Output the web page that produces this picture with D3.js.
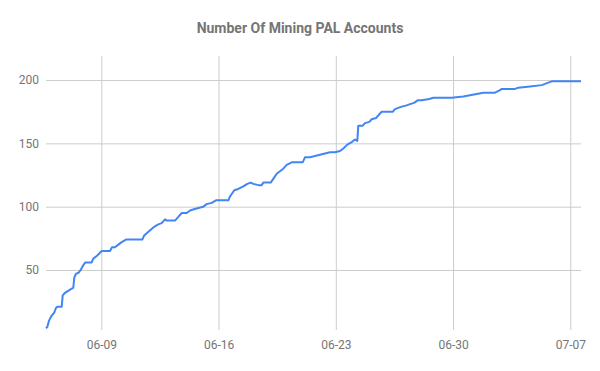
<!DOCTYPE html>
<html>
<head>
<meta charset="utf-8">
<script src="https://cdn.jsdelivr.net/npm/d3@7"></script>
<style>
  html, body { margin: 0; padding: 0; background: #fff; }
  svg { display: block; font-family: Roboto, Arial, sans-serif; }
</style>
</head>
<body>
<svg id="chart" width="600" height="371"></svg>
<script>
const title = "Number Of Mining PAL Accounts";
const year = "2018";
const times = [
  "06-05 16:46","06-05 18:38","06-05 21:05","06-06 00:56","06-06 04:14","06-06 07:06","06-06 08:58","06-06 15:16",
  "06-06 16:42","06-06 20:00","06-07 07:52","06-07 09:18","06-07 11:46","06-07 15:38","06-07 18:29","06-07 21:22",
  "06-08 01:05","06-08 10:14","06-08 12:32","06-08 17:24","06-08 21:08","06-09 00:34","06-09 12:28","06-09 15:20",
  "06-09 19:38","06-10 00:22","06-10 05:14","06-10 11:24","06-11 10:45","06-11 13:11","06-11 17:02","06-11 23:12",
  "06-12 03:30","06-12 09:40","06-12 14:33","06-12 19:16","06-12 21:42","06-13 09:36","06-13 14:20","06-13 19:12",
  "06-14 02:22","06-14 07:06","06-14 12:49","06-14 18:59","06-15 02:09","06-15 07:02","06-15 14:11","06-15 20:21",
  "06-16 13:58","06-16 16:24","06-16 22:34","06-17 04:17","06-17 11:28","06-17 17:11","06-17 22:04","06-18 01:48",
  "06-18 08:57","06-18 13:49","06-18 16:08","06-19 02:43","06-19 06:27","06-19 11:19","06-19 16:03","06-19 20:47",
  "06-20 01:39","06-20 08:49","06-21 00:34","06-21 03:52","06-21 11:02","06-21 18:12","06-22 01:22","06-22 08:31",
  "06-22 15:41","06-22 22:51","06-23 06:01","06-23 10:45","06-23 16:29","06-23 22:47","06-24 03:30","06-24 06:48",
  "06-24 08:14","06-24 14:33","06-24 17:50","06-25 00:00","06-25 03:26","06-25 09:36","06-25 14:20","06-25 17:46",
  "06-26 09:32","06-26 12:49","06-26 17:33","06-26 22:25","06-27 05:35","06-27 10:19","06-27 16:03","06-27 21:22",
  "06-28 03:04","06-28 13:58","06-28 19:42","06-29 19:38","06-29 22:03","06-30 14:41","07-01 09:53","07-01 19:21",
  "07-02 12:06","07-02 19:16","07-02 21:42","07-03 16:46","07-03 21:30","07-04 14:16","07-05 07:02","07-05 11:46",
  "07-05 16:29","07-05 21:22","07-07 15:20"
];
const accounts = [
  4,5,10,14,16,20,21,21,
  30,32,36,44,47,48,50,53,
  56,56,59,61,63,65,65,68,
  68,70,72,74,74,77,79,82,
  84,86,87,90,89,89,92,95,
  95,97,98,99,100,102,103,105,
  105,108,113,114,116,118,119,118,
  117,117,119,119,122,126,128,130,
  133,135,135,139,139,140,141,142,
  143,143,144,146,149,151,153,152,
  164,164,166,167,169,170,173,175,
  175,177,178,179,180,181,182,184,
  184,185,186,186,186,187,189,190,
  190,192,193,193,194,195,196,197,
  198,199,199
];
const xTickLabels = ["06-09","06-16","06-23","06-30","07-07"];
const yTickValues = [50,100,150,200];

const parse = d3.timeParse("%Y-%m-%d %H:%M");
const parseDay = d3.timeParse("%Y-%m-%d");
const data = times.map((t, i) => ({ date: parse(year + "-" + t), value: accounts[i] }));

const svg = d3.select("#chart");
const m = { left: 46, right: 581, top: 56, bottom: 330 };

const x = d3.scaleTime().domain(d3.extent(data, d => d.date)).range([m.left, m.right]);
const y = d3.scaleLinear().domain([2.6, 219]).range([m.bottom, m.top]);

svg.append("text")
  .attr("x", 300).attr("y", 33).attr("text-anchor", "middle")
  .attr("font-size", 14).attr("font-weight", "bold").attr("fill", "#757575")
  .text(title);

const xTicks = xTickLabels.map(s => parseDay(year + "-" + s));
const fmt = d3.timeFormat("%m-%d");

const gx = svg.append("g").attr("transform", `translate(0,${m.bottom})`)
  .call(d3.axisBottom(x).tickValues(xTicks).tickSize(-(m.bottom - m.top)).tickFormat(fmt));
gx.select(".domain").remove();
gx.selectAll("line").attr("stroke", "#cccccc");
gx.selectAll("text").attr("fill", "#757575").attr("font-size", 12)
  .attr("font-family", "Roboto, Arial, sans-serif").attr("dy", "0").attr("y", 19);

const gy = svg.append("g").attr("transform", `translate(${m.left},0)`)
  .call(d3.axisLeft(y).tickValues(yTickValues).tickSize(-(m.right - m.left)).tickFormat(d3.format("d")));
gy.select(".domain").remove();
gy.selectAll("line").attr("stroke", "#cccccc");
gy.selectAll("text").attr("fill", "#757575").attr("font-size", 12)
  .attr("font-family", "Roboto, Arial, sans-serif").attr("x", -7);

const line = d3.line().x(d => x(d.date)).y(d => y(d.value));
svg.append("path").datum(data)
  .attr("fill", "none").attr("stroke", "#4285f4").attr("stroke-width", 2)
  .attr("stroke-linejoin", "round")
  .attr("d", line);
</script>
</body>
</html>
